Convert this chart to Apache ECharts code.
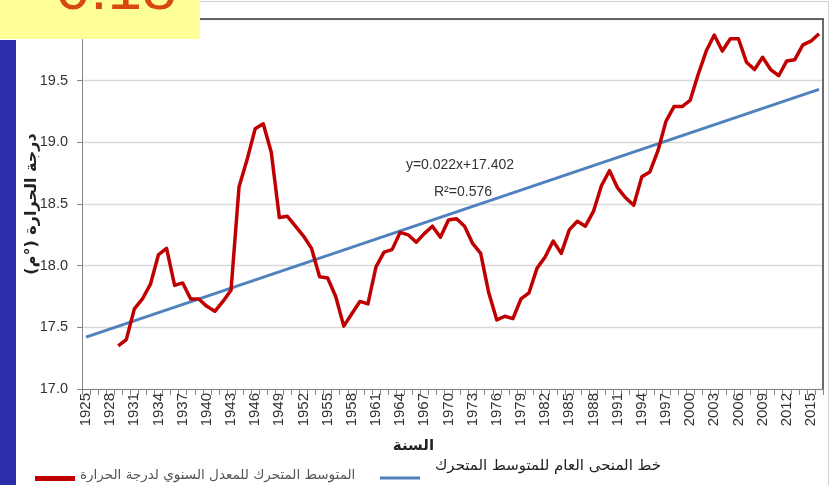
<!DOCTYPE html>
<html>
<head>
<meta charset="utf-8">
<script src="https://cdn.jsdelivr.net/npm/echarts@6/dist/echarts.min.js"></script>
<style>
html,body{margin:0;padding:0;background:#fff;}
#c{width:831px;height:485px;}
</style>
</head>
<body>
<div id="c"></div>
<script>
// ---- data ----
var years = [];
for (var y = 1925; y <= 2016; y++) years.push(String(y));

var movingAvg = [
  null, null, null, null,
  17.35, 17.40, 17.65, 17.73, 17.85, 18.09, 18.14, 17.84, 17.86, 17.73,
  17.73, 17.67, 17.63, 17.71, 17.80, 18.64, 18.86, 19.11, 19.15, 18.92,
  18.39, 18.40, 18.32, 18.24, 18.14, 17.91, 17.90, 17.75, 17.51, 17.61,
  17.71, 17.69, 17.99, 18.11, 18.13, 18.27, 18.25, 18.19, 18.26, 18.32,
  18.23, 18.37, 18.38, 18.32, 18.18, 18.10, 17.78, 17.56, 17.59, 17.57,
  17.73, 17.78, 17.98, 18.07, 18.20, 18.10, 18.29, 18.36, 18.32, 18.44,
  18.65, 18.77, 18.63, 18.55, 18.49, 18.72, 18.76, 18.93, 19.17, 19.29,
  19.29, 19.34, 19.55, 19.74, 19.87, 19.74, 19.84, 19.84, 19.65, 19.59,
  19.69, 19.59, 19.54, 19.66, 19.67, 19.79, 19.82, 19.88
];

// trend line end points (1925 and 2016)
var trendStart = 17.42;
var trendEnd = 19.43;

var yTicks = [17.0, 17.5, 18.0, 18.5, 19.0, 19.5, 20.0];

var seriesRedName = 'المتوسط المتحرك للمعدل السنوي لدرجة الحرارة';
var seriesBlueName = 'خط المنحى العام للمتوسط المتحرك';
var yAxisName = 'درجة الحرارة (°م)';
var xAxisName = 'السنة';
var eqLine1 = 'y=0.022x+17.402';
var eqLine2 = 'R²=0.576';
var bannerText = '- 0.18';

var trend = years.map(function (_, i) {
  if (i === 0) return trendStart;
  if (i === years.length - 1) return trendEnd;
  return null;
});

var numFont = '"Liberation Sans", Arial, sans-serif';
var arFont = '"DejaVu Sans", "Noto Sans", sans-serif';

var chart = echarts.init(document.getElementById('c'), null, {renderer: 'canvas'});
chart.setOption({
  backgroundColor: '#ffffff',
  animation: false,
  grid: {left: 82, right: 8, top: 19, bottom: 96, containLabel: false},
  legend: [
    {
      data: [{name: seriesRedName, icon: 'path://M0,0L0.1,0L0.1,0.01L0,0.01Z M0,6L40,6L40,11L0,11Z'}],
      left: 30, top: 463.5,
      itemWidth: 40, itemHeight: 11,
      textStyle: {fontFamily: arFont, fontSize: 13.5, color: '#555'}
    },
    {
      data: [{name: seriesBlueName, icon: 'path://M0,0L0.1,0L0.1,0.01L0,0.01Z M0,24L40,24L40,27L0,27Z'}],
      left: 375, top: 447.5,
      itemWidth: 40, itemHeight: 27,
      textStyle: {fontFamily: arFont, fontSize: 15, color: '#222', padding: [0, 0, 0, 10]}
    }
  ],
  xAxis: [
    {
      type: 'category',
      data: years,
      boundaryGap: true,
      name: xAxisName,
      nameLocation: 'middle',
      nameGap: 50,
      nameTextStyle: {fontFamily: arFont, fontSize: 15, fontWeight: 'bold', color: '#222', padding: [0, 78, 0, 0]},
      axisLine: {lineStyle: {color: '#868686', width: 1}},
      axisTick: {show: true, interval: 0, alignWithLabel: false, length: 6, lineStyle: {color: '#868686'}},
      axisLabel: {interval: 2, rotate: 90, fontFamily: numFont, fontSize: 15, color: '#333', margin: 4},
      splitLine: {show: false}
    },
    {
      type: 'category',
      data: years,
      position: 'top',
      axisLine: {lineStyle: {color: '#3a3a3a', width: 1.5}},
      axisTick: {show: false},
      axisLabel: {show: false},
      splitLine: {show: false}
    }
  ],
  yAxis: [
    {
      type: 'value',
      min: 17, max: 20, interval: 0.5,
      name: yAxisName,
      nameLocation: 'middle',
      nameGap: 42,
      nameMoveOverlap: false,
      nameTextStyle: {fontFamily: arFont, fontSize: 16, fontWeight: 'bold', color: '#222'},
      axisLine: {show: true, lineStyle: {color: '#868686', width: 1}},
      axisTick: {show: true, length: 5, lineStyle: {color: '#868686'}},
      axisLabel: {
        fontFamily: numFont, fontSize: 14.5, color: '#333', margin: 14,
        formatter: function (v) {
          for (var i = 0; i < yTicks.length - 1; i++) if (Math.abs(yTicks[i] - v) < 1e-6) return yTicks[i].toFixed(1);
          return '';
        }
      },
      splitLine: {show: true, lineStyle: {color: '#d9d9d9', width: 1.3}}
    },
    {
      type: 'value',
      min: 17, max: 20, interval: 0.5,
      position: 'right',
      axisLine: {show: true, lineStyle: {color: '#3a3a3a', width: 1.5}},
      axisTick: {show: false},
      axisLabel: {show: false},
      splitLine: {show: false}
    }
  ],
  series: [
    {
      name: seriesBlueName,
      type: 'line',
      data: trend,
      connectNulls: true,
      showSymbol: false,
      symbol: 'none',
      lineStyle: {color: '#4f81bd', width: 3},
      itemStyle: {color: '#4f81bd'},
      z: 3
    },
    {
      name: seriesRedName,
      type: 'line',
      data: movingAvg,
      showSymbol: false,
      symbol: 'none',
      lineStyle: {color: '#c00000', width: 3.5, join: 'round'},
      itemStyle: {color: '#c00000'},
      z: 4
    }
  ],
  graphic: [
    {type: 'line', shape: {x1: 200, y1: 1.5, x2: 828, y2: 1.5}, style: {stroke: '#d0d0d0', lineWidth: 1}, z: 1},
    {type: 'line', shape: {x1: 828.5, y1: 1, x2: 828.5, y2: 485}, style: {stroke: '#d0d0d0', lineWidth: 1}, z: 1},
    {type: 'rect', left: 0, top: 40, shape: {width: 16, height: 445}, style: {fill: '#2b2ea8'}, z: 10},
    {type: 'rect', left: 0, top: 0, shape: {width: 200, height: 39}, style: {fill: '#ffff99'}, z: 10},
    {type: 'text', left: 18, top: -39, style: {text: bannerText, font: '62px "Liberation Sans", Arial, sans-serif', fill: '#d8480c'}, z: 11},
    {type: 'text', x: 460, y: 165, style: {text: eqLine1, font: '14px ' + numFont, fill: '#333', align: 'center', verticalAlign: 'middle'}, z: 12},
    {type: 'text', x: 463, y: 192, style: {text: eqLine2, font: '14px ' + numFont, fill: '#333', align: 'center', verticalAlign: 'middle'}, z: 12}
  ]
});
</script>
</body>
</html>
